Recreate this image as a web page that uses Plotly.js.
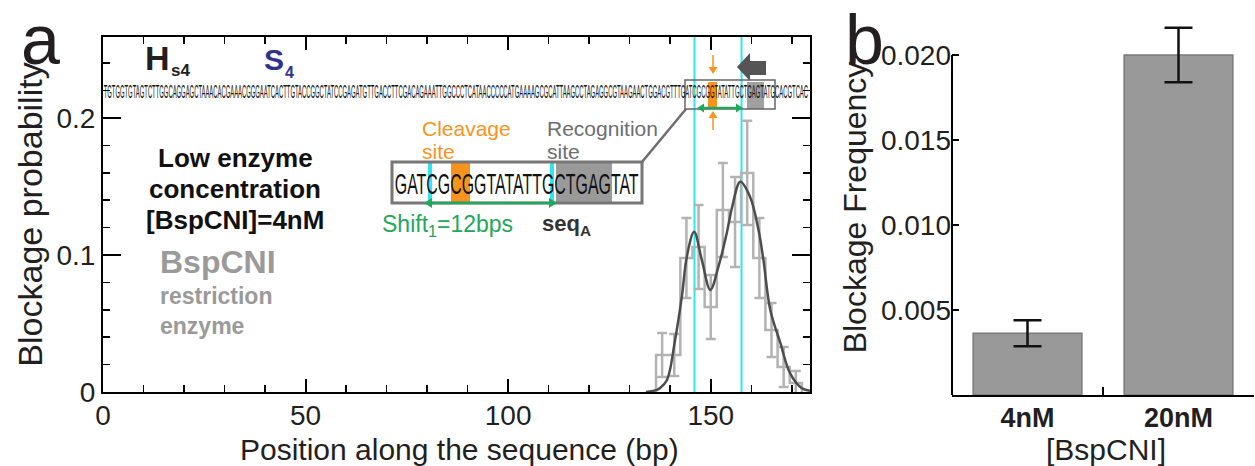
<!DOCTYPE html>
<html><head><meta charset="utf-8">
<script src="https://cdn.plot.ly/plotly-3.0.1.min.js"></script>
<style>html,body{margin:0;padding:0;background:#fff;} #chart{width:1255px;height:466px;}</style>
</head><body><div id="chart"></div>
<script>
// ---------- Panel a data ----------
const binCenters   = [138, 141, 144, 147, 150, 153, 156, 159, 162, 165, 168, 171];
const blockageProb = [0.027, 0.027, 0.0978, 0.1058, 0.062, 0.1328, 0.1241, 0.1599, 0.0978, 0.0453, 0.0182, 0.0066];
const blockageErr  = [0.016, 0.0153, 0.0292, 0.0307, 0.0234, 0.0343, 0.0328, 0.038, 0.0292, 0.0197, 0.0146, 0.0088];
const binWidth = 3;
const fitX = [134, 136.7, 137.5, 139.2, 141.2, 142.9, 144.1, 145.9, 147.8, 149.9, 151.9, 154.0, 155.3, 157.3, 159.7, 161.8, 163.0, 164.7, 167.2, 169.6, 172.5, 174.5];
const fitY = [0, 0.0015, 0.0029, 0.0088, 0.038, 0.0703, 0.0988, 0.117, 0.0964, 0.0745, 0.0915, 0.1166, 0.1352, 0.1535, 0.1425, 0.1182, 0.0964, 0.0599, 0.0356, 0.0136, 0.0027, 0.0009];
const cutPositions = [146, 157.6];
const sequence = "TGTGGTGTAGTCTTGGCAGGAGCTAAACACGAAACGGGAATCACTTGTACCGGCTATCCGAGATGTTGACCTTCGACAGAAATTGGCCCTCATAACCCCCATGAAAAGCGCATTAAGCCTAGAGGCGTAAGAACTGGACGTTTGATCGCGGTATATTGCTGAGTATGCACGTCAC";
const insetSeq = "GATCGCGGTATATTGCTGAGTAT";

// ---------- Panel b data ----------
const concLabels  = ['4nM', '20nM'];
const blockFreq   = [0.00363, 0.0200];
const blockFreqErr = [0.00076, 0.0016];

// ---------- helpers ----------
const W = 1255, H = 466;
const px = v => v / W;
const py = v => 1 - v / H;

// stairs outline built from bins
const stairX = [binCenters[0] - binWidth / 2], stairY = [0];
binCenters.forEach((c, i) => { stairX.push(c - binWidth / 2); stairY.push(blockageProb[i]); });
const lastEdge = binCenters[binCenters.length - 1] + binWidth / 2;
stairX.push(lastEdge); stairY.push(blockageProb[blockageProb.length - 1]);
stairX.push(lastEdge); stairY.push(0);

const GRAY = '#b3b3b3';
const traces = [
  {x: stairX, y: stairY, type: 'scatter', mode: 'lines', line: {shape: 'hv', color: GRAY, width: 2.5}, xaxis: 'x', yaxis: 'y', hoverinfo: 'skip'},
  {x: binCenters, y: blockageProb, type: 'scatter', mode: 'markers', marker: {size: 1, opacity: 0},
   error_y: {type: 'data', array: blockageErr, color: GRAY, thickness: 2.5, width: 5}, xaxis: 'x', yaxis: 'y'},
  {x: fitX, y: fitY, type: 'scatter', mode: 'lines', line: {shape: 'spline', smoothing: 1, color: '#4d4d4d', width: 2.5}, xaxis: 'x', yaxis: 'y'},
  {x: concLabels, y: blockFreq, type: 'bar', width: 0.72, marker: {color: '#999999', line: {color: '#7a7a7a', width: 1.5}},
   error_y: {type: 'data', array: blockFreqErr, color: '#111', thickness: 2.5, width: 14}, xaxis: 'x2', yaxis: 'y2'}
];

const TXT = '#231f20';
const ORANGE = '#f7941d';
const GREEN = '#22a85a';
const CYAN = '#2ee6f0';

function label(text, x, y, size, opts) {
  return Object.assign({text: text, x: px(x), y: py(y), xref: 'paper', yref: 'paper', showarrow: false,
    xanchor: 'center', yanchor: 'middle', font: {size: size, color: TXT}}, opts || {});
}

const annotations = [
  label('a', 40, 40, 70),
  label('b', 864, 40, 70),
  label('H', 157, 58, 34, {font: {size: 34, color: TXT, weight: 'bold'}}),
  label('s4', 180, 70, 17, {font: {size: 17, color: TXT, weight: 'bold'}}),
  label('S', 274, 60, 30, {font: {size: 30, color: '#2e3192', weight: 'bold'}}),
  label('4', 289, 73, 16, {font: {size: 16, color: '#2e3192', weight: 'bold'}}),
  label(sequence, 456, 92, 18, {font: {size: 18, color: '#111'}}),
  label('Low enzyme', 235, 158, 26, {font: {size: 26, color: '#111', weight: 'bold'}}),
  label('concentration', 235, 189, 26, {font: {size: 26, color: '#111', weight: 'bold'}}),
  label('[BspCNI]=4nM', 235, 220, 26, {font: {size: 26, color: '#111', weight: 'bold'}}),
  label('BspCNI', 158, 262, 32, {xanchor: 'left', font: {size: 32, color: '#9a9a9a', weight: 'bold'}}),
  label('restriction', 158, 296, 23, {xanchor: 'left', font: {size: 23, color: '#9a9a9a', weight: 'bold'}}),
  label('enzyme', 158, 326, 23, {xanchor: 'left', font: {size: 23, color: '#9a9a9a', weight: 'bold'}}),
  label('Cleavage', 420, 128, 21, {xanchor: 'left', font: {size: 21, color: ORANGE}}),
  label('site', 420, 151, 21, {xanchor: 'left', font: {size: 21, color: ORANGE}}),
  label('Recognition', 545, 128, 21, {xanchor: 'left', font: {size: 21, color: '#6d6e71'}}),
  label('site', 545, 151, 21, {xanchor: 'left', font: {size: 21, color: '#6d6e71'}}),
  label(insetSeq, 516, 183, 30, {font: {size: 30, color: '#111'}}),
  label('Shift<sub>1</sub>=12bps', 380, 225, 23, {xanchor: 'left', font: {size: 23, color: GREEN}}),
  label('<b>seq<sub>A</sub></b>', 540, 225, 22, {xanchor: 'left', font: {size: 22, color: '#333'}}),
  label('Position along the sequence (bp)', 459, 449, 30),
  label('[BspCNI]', 1106, 449, 30)
];
const SEQ_IDX = 6, INSET_IDX = 17;

function rect(x0, y0, x1, y1, fill, line, layer) {
  return {type: 'rect', xref: 'paper', yref: 'paper', x0: px(x0), x1: px(x1), y0: py(y0), y1: py(y1),
    fillcolor: fill, line: line || {width: 0}, layer: layer || 'above'};
}
function pathP(points, fill) {
  const d = points.map((p, i) => (i ? 'L' : 'M') + px(p[0]).toFixed(5) + ',' + py(p[1]).toFixed(5)).join(' ') + ' Z';
  return {type: 'path', xref: 'paper', yref: 'paper', path: d, fillcolor: fill, line: {width: 0}};
}
function lineP(x0, y0, x1, y1, color, width) {
  return {type: 'line', xref: 'paper', yref: 'paper', x0: px(x0), y0: py(y0), x1: px(x1), y1: py(y1), line: {color: color, width: width}};
}
// arrow head pointing to (hx,hy) from direction of (tx,ty)
function head(hx, hy, tx, ty, color, len, half) {
  const dx = hx - tx, dy = hy - ty, L = Math.hypot(dx, dy), ux = dx / L, uy = dy / L;
  const bx = hx - ux * len, by = hy - uy * len;
  return pathP([[hx, hy], [bx - uy * half, by + ux * half], [bx + uy * half, by - ux * half]], color);
}

const shapes = [];
cutPositions.forEach(c => shapes.push({type: 'line', xref: 'x', yref: 'y domain', x0: c, x1: c, y0: 0, y1: 1,
  line: {color: CYAN, width: 2}, layer: 'below'}));
shapes.push(rect(708, 82, 717, 108, ORANGE, null, 'below'));
shapes.push(rect(747, 82, 764, 109, '#a0a0a0', null, 'below'));
shapes.push(rect(685, 80, 775, 109, 'rgba(0,0,0,0)', {color: '#666', width: 1.5}));
// inset
shapes.push(rect(392, 162, 642, 203, '#fff', {width: 0}));
shapes.push(rect(428, 163, 432, 202, CYAN));
shapes.push(rect(451, 163, 470, 202, ORANGE));
shapes.push(rect(550, 163, 554, 202, CYAN));
shapes.push(rect(556, 163, 612, 202, '#9a9a9a'));
shapes.push(rect(392, 162, 642, 203, 'rgba(0,0,0,0)', {color: '#777', width: 3}));
shapes.push(lineP(642, 162, 686, 109, '#6d6e71', 2.5));
// green double arrows
shapes.push(lineP(430, 203, 551, 203, GREEN, 2.5));
shapes.push(head(424, 203, 557, 203, GREEN, 8, 5));
shapes.push(head(557, 203, 424, 203, GREEN, 8, 5));
shapes.push(lineP(703, 108, 738, 108, GREEN, 2.5));
shapes.push(head(697, 108, 743, 108, GREEN, 7, 4.5));
shapes.push(head(743, 108, 697, 108, GREEN, 7, 4.5));
// orange arrows
shapes.push(lineP(713, 55, 713, 68, ORANGE, 1.5));
shapes.push(head(713, 74, 713, 55, ORANGE, 7, 4.5));
shapes.push(lineP(713, 130, 713, 117, ORANGE, 1.5));
shapes.push(head(713, 111, 713, 130, ORANGE, 7, 4.5));
// dark arrow
shapes.push(pathP([[737, 67], [750, 53], [750, 61], [766, 61], [766, 75], [750, 75], [750, 81]], '#555'));
// panel b y axis line up to 0.020
shapes.push({type: 'line', xref: 'x2 domain', yref: 'y2', x0: 0, x1: 0, y0: 0, y1: 0.02, line: {color: '#000', width: 2}});

const axisCommon = {showline: true, linecolor: '#000', linewidth: 2, showgrid: false, zeroline: false,
  ticks: 'inside', tickcolor: '#000', tickwidth: 2, tickfont: {size: 28, color: TXT}};

const layout = {
  width: W, height: H, margin: {l: 0, r: 0, t: 0, b: 0},
  paper_bgcolor: '#fff', plot_bgcolor: '#fff', showlegend: false,
  font: {family: 'Liberation Sans, Arial, sans-serif', color: TXT},
  xaxis: Object.assign({}, axisCommon, {domain: [px(103), px(810)], range: [0, 174.5], anchor: 'y', mirror: 'allticks',
    tick0: 0, dtick: 50, ticklen: 13, ticklabelstandoff: -3,
    minor: {dtick: 10, ticks: 'inside', ticklen: 7, tickwidth: 1.5, tickcolor: '#000'}}),
  yaxis: Object.assign({}, axisCommon, {domain: [py(392), py(37)], range: [0, 0.2591], anchor: 'x', mirror: 'allticks',
    tick0: 0, dtick: 0.1, ticklen: 18,
    minor: {dtick: 0.02, ticks: 'inside', ticklen: 7, tickwidth: 1.5, tickcolor: '#000'},
    title: {text: 'Blockage probability', font: {size: 34, color: TXT}, standoff: 4}}),
  xaxis2: Object.assign({}, axisCommon, {domain: [px(952), px(1254)], anchor: 'y2', type: 'category', range: [-0.5, 1.5],
    tickson: 'boundaries', ticklen: 8, ticklabelstandoff: -2, tickfont: {size: 27, color: TXT, weight: 'bold'}}),
  yaxis2: Object.assign({}, axisCommon, {domain: [py(395), py(20)], anchor: 'x2', range: [0, 0.02206], showline: false,
    tickvals: [0.005, 0.010, 0.015, 0.020], tickformat: '.3f', ticklen: 7,
    title: {text: 'Blockage Frequency', font: {size: 32, color: TXT}, standoff: 4}}),
  annotations: annotations,
  shapes: shapes
};

Plotly.newPlot('chart', traces, layout, {displayModeBar: false, staticPlot: true}).then(() => {
  const squeeze = (idx, len) => {
    const t = document.querySelector('.annotation[data-index="' + idx + '"] text.annotation-text');
    if (!t) return;
    const nat = t.getComputedTextLength();
    if (!nat) return;
    const s = len / nat;
    const x = parseFloat(t.getAttribute('x')) || 0;
    const prev = t.getAttribute('transform') || '';
    t.setAttribute('transform', (prev + ' translate(' + x + ',0) scale(' + s + ',1) translate(' + (-x) + ',0)').trim());
  };
  squeeze(SEQ_IDX, 705);
  squeeze(INSET_IDX, 244);
});
</script>
</body></html>
